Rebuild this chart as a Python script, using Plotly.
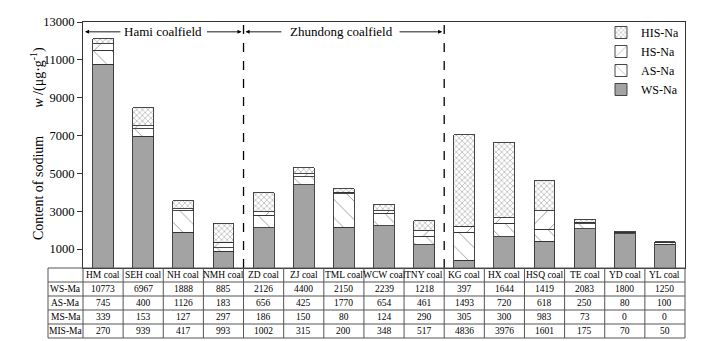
import plotly.graph_objects as go

coals = ["HM coal", "SEH coal", "NH coal", "NMH coal", "ZD coal", "ZJ coal", "TML coal",
         "WCW coal", "TNY coal", "KG coal", "HX coal", "HSQ coal", "TE coal", "YD coal", "YL coal"]
ws_na = [10773, 6967, 1888, 885, 2126, 4400, 2150, 2239, 1218, 397, 1644, 1419, 2083, 1800, 1250]
as_na = [745, 400, 1126, 183, 656, 425, 1770, 654, 461, 1493, 720, 618, 250, 80, 100]
hs_na = [339, 153, 127, 297, 186, 150, 80, 124, 290, 305, 300, 983, 73, 0, 0]
his_na = [270, 939, 417, 993, 1002, 315, 200, 348, 517, 4836, 3976, 1601, 175, 70, 50]
row_labels = ["WS-Ma", "AS-Ma", "MS-Ma", "MIS-Ma"]
y_ticks = [1000, 3000, 5000, 7000, 9000, 11000, 13000]

FONT = "Liberation Serif"
W, H = 706, 341
ML, MR, MT, MB = 83, 21, 22, 73
plot_w = W - ML - MR          # 602
plot_h = H - MT - MB          # 246

def px_x(px):
    return (px - ML) / plot_w

def px_y(py):
    return (H - MB - py) / plot_h

idx = list(range(len(coals)))
n = len(coals)
fig = go.Figure()

def add_bar(name, vals, pattern, bg):
    fig.add_trace(go.Bar(
        x=idx, y=vals, name=name, width=0.52,
        marker=dict(color=bg, line=dict(color="#333333", width=0.9), pattern=pattern),
    ))

add_bar("WS-Na", ws_na, dict(shape=".", fgcolor="#555555", bgcolor="#b8b8b8", size=2, solidity=0.5), "#b8b8b8")
add_bar("AS-Na", as_na, dict(shape="\\", fgcolor="#333333", bgcolor="white", size=13, solidity=0.07), "white")
add_bar("HS-Na", hs_na, dict(shape="/", fgcolor="#333333", bgcolor="white", size=14, solidity=0.07), "white")
add_bar("HIS-Na", his_na, dict(shape="x", fgcolor="#555555", bgcolor="white", size=4, solidity=0.3), "white")

shapes = []
annotations = []

# dashed coalfield separators
for xb in [3.5, 8.5]:
    shapes.append(dict(type="line", xref="x", yref="y", x0=xb, x1=xb, y0=0, y1=13000,
                       line=dict(color="black", width=1.3, dash="dash")))

# data table under the plot
row_h = 14
table_top = H - MB
label_left = px_x(48)
n_rows = 1 + len(row_labels)
tbl_line = dict(color="#555555", width=1)
for r in range(n_rows + 1):
    yy = px_y(table_top + r * row_h)
    shapes.append(dict(type="line", xref="paper", yref="paper", x0=label_left, x1=1, y0=yy, y1=yy,
                       line=tbl_line))
y_bot = px_y(table_top + n_rows * row_h)
y_top = px_y(table_top)
for c in range(n + 1):
    xx = c / n
    shapes.append(dict(type="line", xref="paper", yref="paper", x0=xx, x1=xx, y0=y_top, y1=y_bot,
                       line=tbl_line))
shapes.append(dict(type="line", xref="paper", yref="paper", x0=label_left, x1=label_left,
                   y0=y_top, y1=y_bot, line=tbl_line))

tfont = dict(family=FONT, size=9.5, color="black")
table_rows = [ws_na, as_na, hs_na, his_na]
for i in idx:
    annotations.append(dict(x=i, y=px_y(table_top + row_h / 2), xref="x", yref="paper",
                            text=coals[i], showarrow=False, font=tfont,
                            xanchor="center", yanchor="middle"))
    for r, vals in enumerate(table_rows):
        annotations.append(dict(x=i, y=px_y(table_top + (r + 1.5) * row_h), xref="x", yref="paper",
                                text=str(vals[i]), showarrow=False, font=tfont,
                                xanchor="center", yanchor="middle"))
for r, lab in enumerate(row_labels):
    annotations.append(dict(x=label_left / 2, y=px_y(table_top + (r + 1.5) * row_h),
                            xref="paper", yref="paper", text=lab, showarrow=False, font=tfont,
                            xanchor="center", yanchor="middle"))

# coalfield labels with arrows
ya = 12480
annotations.append(dict(x=1.5, y=ya, xref="x", yref="y", text="Hami coalfield", showarrow=False,
                        font=dict(family=FONT, size=13, color="black")))
annotations.append(dict(x=5.95, y=ya, xref="x", yref="y", text="Zhundong coalfield", showarrow=False,
                        font=dict(family=FONT, size=13, color="black")))
for head, tail in [(-0.45, 0.47), (3.45, 2.55), (3.55, 4.48), (8.45, 7.35)]:
    annotations.append(dict(x=head, y=ya, ax=tail, ay=ya, xref="x", yref="y", axref="x", ayref="y",
                            text="", showarrow=True, arrowhead=2, arrowsize=0.9, arrowwidth=0.9,
                            arrowcolor="black"))

# y-axis title
gap = "\u00a0" * 8
annotations.append(dict(x=px_x(37), y=px_y(144), xref="paper", yref="paper",
                        text="Content of sodium" + gap + "<i>w</i> /(μg·g<sup>-1</sup>)", textangle=-90,
                        showarrow=False, xanchor="center", yanchor="middle",
                        font=dict(family=FONT, size=14, color="black")))

fig.update_layout(
    width=W, height=H,
    margin=dict(l=ML, r=MR, t=MT, b=MB, autoexpand=False),
    paper_bgcolor="white", plot_bgcolor="white",
    barmode="stack",
    shapes=shapes, annotations=annotations,
    font=dict(family=FONT, color="black"),
    legend=dict(x=px_x(601), y=px_y(18), xanchor="left", yanchor="top",
                traceorder="reversed", font=dict(family=FONT, size=12, color="black"),
                bgcolor="rgba(0,0,0,0)", tracegroupgap=0),
    xaxis=dict(range=[-0.5, 14.5], showticklabels=False, ticks="",
               showgrid=False, zeroline=False, showline=True, linecolor="#333333", linewidth=1,
               mirror=True, automargin=False),
    yaxis=dict(range=[0, 13000], tickvals=y_ticks,
               ticktext=[str(v) for v in y_ticks], ticks="outside",
               ticklen=5, tickcolor="#333333", showgrid=False, zeroline=False, showline=True,
               linecolor="#333333", linewidth=1, mirror=True, automargin=False,
               tickfont=dict(family=FONT, size=12.5, color="black")),
)

fig.write_html("out.html", config={"displayModeBar": False},
               post_script="document.body.style.margin='0';")
